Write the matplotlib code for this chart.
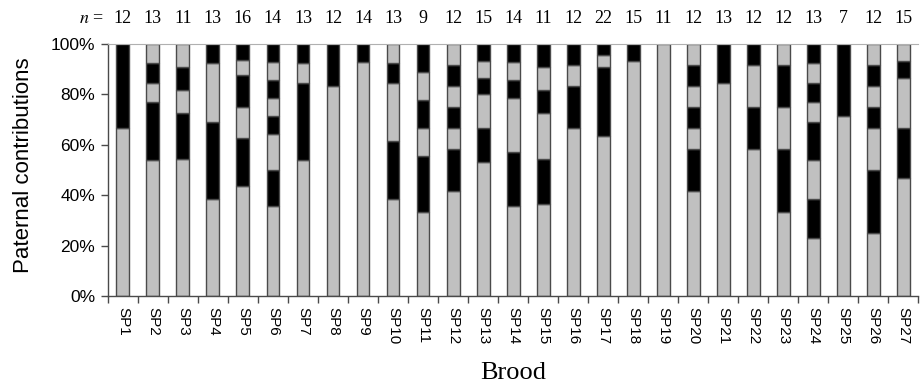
import numpy as np
import matplotlib
matplotlib.use('Agg')
import matplotlib.pyplot as plt
from matplotlib.ticker import PercentFormatter

plt.rcParams['mathtext.fontset'] = 'stix'

broods = ['SP%d' % i for i in range(1, 28)]
n_offspring = [12, 13, 11, 13, 16, 14, 13, 12, 14, 13, 9, 12, 15, 14,
               11, 12, 22, 15, 11, 12, 13, 12, 12, 13, 7, 12, 15]
# offspring per sire, bottom to top (colours alternate grey / black)
sire_counts = [
    [8, 4], [7, 3, 1, 1, 1], [6, 2, 1, 1, 1], [5, 4, 3, 1],
    [7, 3, 2, 2, 1, 1], [5, 2, 2, 1, 1, 1, 1, 1], [7, 4, 1, 1], [10, 2],
    [13, 1], [5, 3, 3, 1, 1], [3, 2, 1, 1, 1, 1], [5, 2, 1, 1, 1, 1, 1],
    [8, 2, 2, 1, 1, 1], [5, 3, 3, 1, 1, 1], [4, 2, 2, 1, 1, 1], [8, 2, 1, 1],
    [14, 6, 1, 1], [14, 1], [11], [5, 2, 1, 1, 1, 1, 1], [11, 2],
    [7, 2, 2, 1], [4, 3, 2, 2, 1], [3, 2, 2, 2, 1, 1, 1, 1], [5, 2],
    [3, 3, 2, 1, 1, 1, 1], [7, 3, 3, 1, 1],
]

colors = ['#c0c0c0', 'black']
edge = '#4a4a4a'

fig = plt.figure(figsize=(9.22, 3.89), dpi=100)
ax = fig.add_axes([0.117, 0.239, 0.879, 0.648])

x = np.arange(len(broods))
for i, counts in enumerate(sire_counts):
    bottom = 0.0
    for j, c in enumerate(counts):
        h = 100.0 * c / n_offspring[i]
        ax.bar(x[i], h, bottom=bottom, width=0.43, color=colors[j % 2],
               edgecolor=edge, linewidth=1.0)
        bottom += h

ax.set_xlim(-0.5, len(broods) - 0.5)
ax.set_ylim(0, 100)
ax.set_yticks(np.arange(0, 101, 20))
ax.yaxis.set_major_formatter(PercentFormatter(decimals=0))
ax.set_xticks(x)
ax.set_xticklabels(broods, rotation=-90, fontsize=11, family='Liberation Sans')
ax.set_xticks(np.arange(-0.5, len(broods)), minor=True)
ax.tick_params(axis='x', which='major', length=0, pad=8)
ax.tick_params(axis='x', which='minor', length=5, width=1, color=edge, direction='out')
ax.tick_params(axis='y', length=5, width=1, color=edge, direction='out', pad=4)
for lab in ax.get_yticklabels():
    lab.set_family('Liberation Sans')
    lab.set_fontsize(12.5)

for s in ['left', 'bottom']:
    ax.spines[s].set_color(edge)
    ax.spines[s].set_linewidth(1.0)
ax.spines['top'].set_color('#b0b0b0')
ax.spines['right'].set_visible(False)

ax.set_ylabel('Paternal contributions', family='Liberation Sans', fontsize=16,
              va='center', ha='center')
ax.yaxis.set_label_coords(-0.104, 0.518)
ax.set_xlabel('Brood', family='Liberation Serif', fontsize=19, va='center')
ax.xaxis.set_label_coords(0.5, -0.305)

trans = ax.get_xaxis_transform()
for i, n in enumerate(n_offspring):
    ax.text(x[i], 1.1, str(n), transform=trans, ha='center', va='center',
            family='Liberation Serif', fontsize=13)
ax.text(-0.65, 1.1, '$n$ =', transform=trans, ha='right', va='center',
        family='Liberation Serif', fontsize=13)

fig.savefig('out.png', dpi=100)
